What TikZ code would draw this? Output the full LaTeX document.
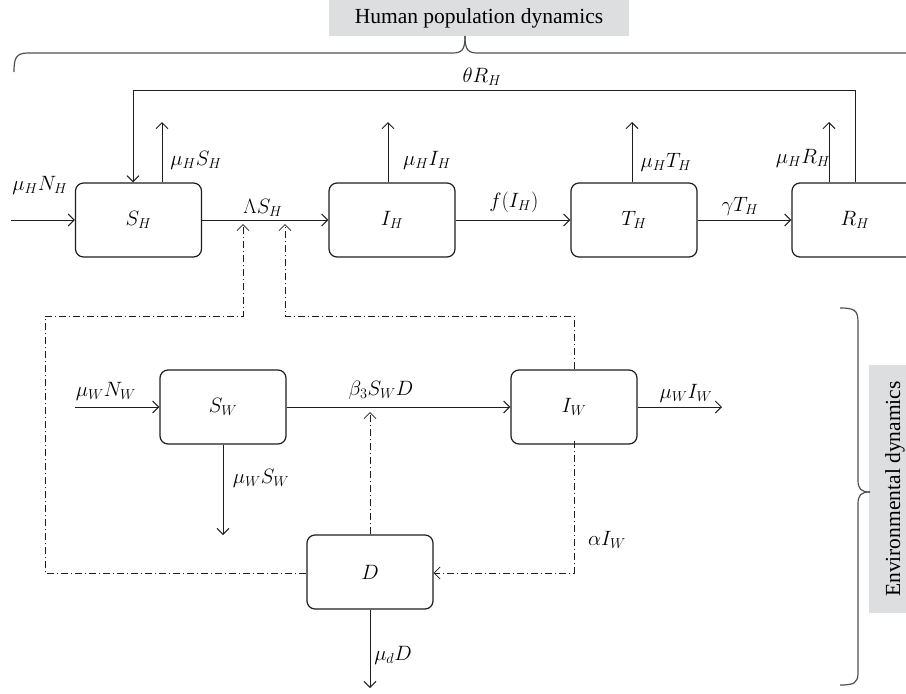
\documentclass[tikz,border=0pt]{standalone}
\usepackage{fontspec}
\newfontfamily\hdrfont{Liberation Serif}
\usetikzlibrary{arrows.meta}
\definecolor{boxgray}{RGB}{221,222,223}
\definecolor{bracegray}{RGB}{80,80,80}
\definecolor{linec}{RGB}{30,30,30}
\begin{document}
\begin{tikzpicture}[x=1pt,y=-1pt,
  font=\fontsize{21}{25}\selectfont,
  comp/.style={draw=linec, line width=1.2pt, rounded corners=8pt, minimum width=126pt, minimum height=74pt, inner sep=0pt},
  flow/.style={draw=linec, line width=1pt, -{Straight Barb[length=6pt,width=12pt]}},
  dd/.style={draw=linec, line width=0.8pt, dash pattern=on 7pt off 3pt on 1pt off 3pt},
  ddflow/.style={dd, -{Straight Barb[length=6pt,width=12pt]}},
  lbl/.style={inner sep=0pt},
  graybox/.style={fill=boxgray, inner sep=0pt, font=\hdrfont\fontsize{21.5}{25}\selectfont},
  bracel/.style={draw=bracegray, line width=1.2pt}
]
\clip (0,0) rectangle (906,694);
\fill[white] (0,0) rectangle (906,694);

% compartments
\node[comp] (SH) at (138.5,220) {$S_H$};
\node[comp] (IH) at (392,220) {$I_H$};
\node[comp] (TH) at (634,220) {$T_H$};
\node[comp] (RH) at (855,220) {$R_H$};
\node[comp] (SW) at (223,407) {$S_W$};
\node[comp] (IW) at (574,407) {$I_W$};
\node[comp] (D) at (370,572) {$D$};

% gray headers
\node[graybox, minimum width=300pt, minimum height=36pt] (hp) at (479,18) {Human population dynamics};
\node[graybox, minimum width=248pt, minimum height=52pt, rotate=90] (env) at (895,489) {Environmental dynamics};

% free ends
\coordinate (inH) at (11,220);
\coordinate (oSH) at (162,122);
\coordinate (oIH) at (388,122);
\coordinate (oTH) at (632,122);
\coordinate (oRH) at (829,122);
\coordinate (fbR) at (855,90);
\coordinate (fbL) at (133,90);
\coordinate (inW) at (75,407);
\coordinate (oIW) at (722,407);
\coordinate (oSW) at (223,535);
\coordinate (oD) at (370,688);
\coordinate (tipA) at (243,224);
\coordinate (tipB) at (285,224);
\coordinate (tipD) at (370,412);

% human flows
\draw[flow] (inH) -- (SH.west);
\draw[flow] (SH.east) -- (IH.west);
\draw[flow] (IH.east) -- (TH.west);
\draw[flow] (TH.east) -- (RH.west);
\draw[flow] (SH.north -| oSH) -- (oSH);
\draw[flow] (IH.north -| oIH) -- (oIH);
\draw[flow] (TH.north -| oTH) -- (oTH);
\draw[flow] (RH.north -| oRH) -- (oRH);
\draw[flow] (RH.north) -- (fbR) -- (fbL) -- (SH.north -| fbL);

% environmental flows
\draw[flow] (inW) -- (SW.west);
\draw[flow] (SW.east) -- (IW.west);
\draw[flow] (IW.east) -- (oIW);
\draw[flow] (SW.south) -- (oSW);
\draw[flow] (D.south) -- (oD);

% dash-dot links
\draw[ddflow] (D.west |- 0,573) -- (45,573) -- (45,316) -- (243,316) -- (tipA);
\draw[ddflow] (IW.north) -- (574,316) -- (285,316) -- (tipB);
\draw[ddflow] (D.north) -- (tipD);
\draw[ddflow] ([yshift=4pt]IW.south) -- (574,573) -- (D.east |- 0,573);

% labels
\node[lbl] at (482,77) {$\theta R_H$};
\node[lbl] at (40,185) {$\mu_H N_H$};
\node[lbl] at (196,160) {$\mu_H S_H$};
\node[lbl] at (263,208) {$\Lambda S_H$};
\node[lbl] at (427,160) {$\mu_H I_H$};
\node[lbl] at (514,202) {$f(I_H)$};
\node[lbl] at (666,162) {$\mu_H T_H$};
\node[lbl] at (740,206) {$\gamma T_H$};
\node[lbl] at (803,158) {$\mu_H R_H$};
\node[lbl] at (106,391) {$\mu_W N_W$};
\node[lbl] at (381,390) {$\beta_3 S_W D$};
\node[lbl] at (686,393) {$\mu_W I_W$};
\node[lbl] at (261,478) {$\mu_W S_W$};
\node[lbl] at (607,540) {$\alpha I_W$};
\node[lbl] at (393,655) {$\mu_d D$};

% braces
\draw[bracel] (14,72) .. controls (14,58) and (16,53) .. (28,53) -- (452,53) .. controls (462,53) and (465,50) .. (465,36);
\draw[bracel] (465,36) .. controls (465,50) and (468,53) .. (478,53) -- (920,53);
\draw[bracel] (840,308) .. controls (854,308) and (858,310) .. (858,322) -- (858,480) .. controls (858,489) and (861,492) .. (870,492);
\draw[bracel] (870,492) .. controls (861,492) and (858,495) .. (858,504) -- (858,673) .. controls (858,683) and (854,685) .. (840,685);
\end{tikzpicture}
\end{document}
